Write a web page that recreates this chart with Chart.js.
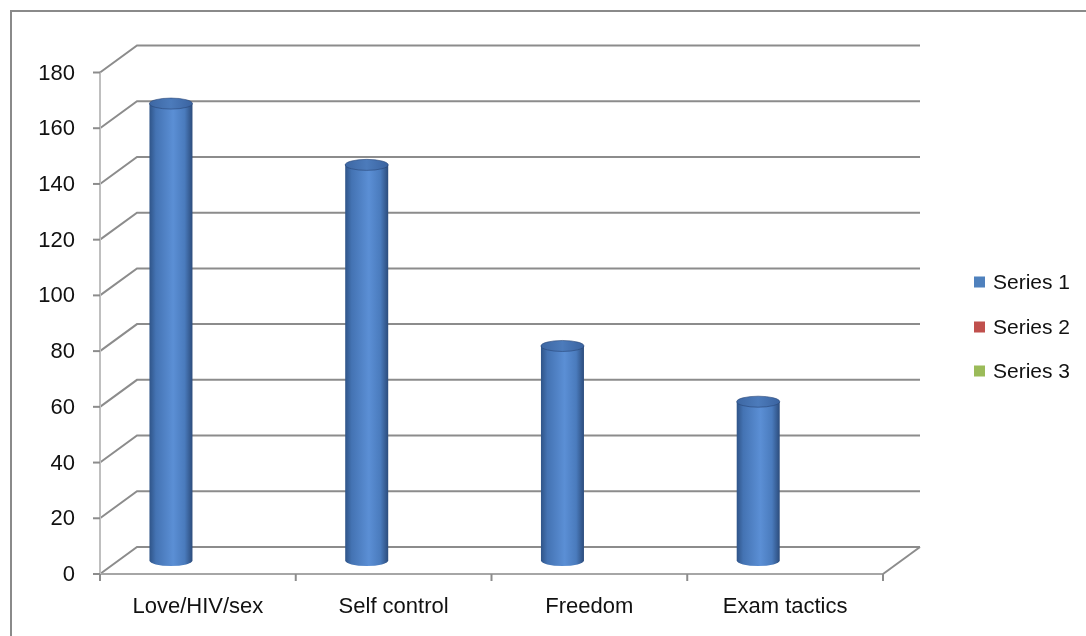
<!DOCTYPE html>
<html>
<head>
<meta charset="utf-8">
<script src="https://cdn.jsdelivr.net/npm/chart.js@4/dist/chart.umd.min.js"></script>
<style>
  html, body { margin: 0; padding: 0; background: #ffffff; }
  #wrap { width: 1086px; height: 636px; position: relative; }
</style>
</head>
<body>
<div id="wrap"><canvas id="c" width="1086" height="636"></canvas></div>
<script>
// Chart data
const categories = ['Love/HIV/sex', 'Self control', 'Freedom', 'Exam tactics'];
const series1 = [164, 142, 77, 57];
const series2 = [null, null, null, null];
const series3 = [null, null, null, null];
const seriesNames = ['Series 1', 'Series 2', 'Series 3'];
const seriesColors = ['#4f81bd', '#c0504d', '#9bbb59'];
const yTicks = [0, 20, 40, 60, 80, 100, 120, 140, 160, 180];

// 3D depth of the plot box (back wall offset from the front plane)
const DEPTH_X = 37;
const DEPTH_Y = 27;
const FONT = '"Liberation Sans", Arial, sans-serif';
const GRID = '#8c8c8c';

function line(ctx, pts, color, width) {
  ctx.beginPath();
  ctx.moveTo(pts[0][0], pts[0][1]);
  for (let i = 1; i < pts.length; i++) ctx.lineTo(pts[i][0], pts[i][1]);
  ctx.strokeStyle = color;
  ctx.lineWidth = width;
  ctx.stroke();
}

const box3d = {
  id: 'box3d',
  beforeDatasetsDraw(chart) {
    const ctx = chart.ctx;
    const y = chart.scales.y;
    const a = chart.chartArea;
    ctx.save();
    ctx.lineCap = 'butt';
    // back wall gridlines with the side-wall diagonals
    yTicks.forEach(v => {
      const py = y.getPixelForValue(v);
      line(ctx, [[a.left, py], [a.left + DEPTH_X, py - DEPTH_Y], [a.right + DEPTH_X, py - DEPTH_Y]], GRID, 2);
    });
    // floor: front edge and right diagonal
    const base = y.getPixelForValue(0);
    line(ctx, [[a.left, base], [a.right, base]], '#a6a6a6', 2);
    line(ctx, [[a.right, base], [a.right + DEPTH_X, base - DEPTH_Y]], GRID, 2);
    // front value axis
    line(ctx, [[a.left, y.getPixelForValue(180)], [a.left, base]], '#bfbfbf', 2);
    // value axis tick marks
    yTicks.forEach(v => {
      const py = y.getPixelForValue(v);
      line(ctx, [[a.left - 7, py], [a.left, py]], GRID, 2);
    });
    // category tick marks
    const n = categories.length;
    for (let i = 0; i <= n; i++) {
      const px = a.left + (a.right - a.left) * i / n;
      line(ctx, [[px, base], [px, base + 7]], GRID, 2);
    }
    ctx.restore();
  },
  afterDatasetsDraw(chart) {
    const ctx = chart.ctx;
    const meta = chart.getDatasetMeta(0);
    ctx.save();
    meta.data.forEach(el => {
      const p = el.getProps(['x', 'y', 'base', 'width'], true);
      const cx = p.x + DEPTH_X / 2;
      const rx = p.width / 2;
      const ry = 5.5;
      const top = p.y - DEPTH_Y / 2;
      const bot = p.base - DEPTH_Y / 2;
      // body
      const g = ctx.createLinearGradient(cx - rx, 0, cx + rx, 0);
      g.addColorStop(0, '#2f5488');
      g.addColorStop(0.15, '#4473b3');
      g.addColorStop(0.55, '#5b8fd5');
      g.addColorStop(0.82, '#4a7bbd');
      g.addColorStop(1, '#2c4c7c');
      ctx.beginPath();
      ctx.moveTo(cx - rx, top);
      ctx.lineTo(cx - rx, bot);
      ctx.ellipse(cx, bot, rx, ry, 0, Math.PI, 0, true);
      ctx.lineTo(cx + rx, top);
      ctx.closePath();
      ctx.fillStyle = g;
      ctx.fill();
      // top cap
      const gt = ctx.createLinearGradient(cx - rx, 0, cx + rx, 0);
      gt.addColorStop(0, '#3d67a3');
      gt.addColorStop(0.5, '#4c7bbb');
      gt.addColorStop(1, '#3a63a0');
      ctx.beginPath();
      ctx.ellipse(cx, top, rx, ry, 0, 0, Math.PI * 2);
      ctx.fillStyle = gt;
      ctx.fill();
      ctx.strokeStyle = 'rgba(40,70,120,0.6)';
      ctx.lineWidth = 1;
      ctx.stroke();
    });
    ctx.restore();
  },
  afterDraw(chart) {
    const ctx = chart.ctx;
    const y = chart.scales.y;
    const x = chart.scales.x;
    const a = chart.chartArea;
    ctx.save();
    ctx.fillStyle = '#111';
    ctx.font = '22px ' + FONT;
    // value labels
    ctx.textAlign = 'right';
    ctx.textBaseline = 'middle';
    yTicks.forEach(v => ctx.fillText(String(v), a.left - 25, y.getPixelForValue(v) + 1));
    // category labels
    ctx.textAlign = 'center';
    categories.forEach((c, i) => ctx.fillText(c, x.getPixelForValue(i), 607));
    // legend
    ctx.font = '21px ' + FONT;
    ctx.textAlign = 'left';
    const ly = [282, 327, 371];
    seriesNames.forEach((s, i) => {
      ctx.fillStyle = seriesColors[i];
      ctx.fillRect(974, ly[i] - 5.5, 11, 11);
      ctx.fillStyle = '#111';
      ctx.fillText(s, 993, ly[i] + 1);
    });
    // outer frame
    line(ctx, [[11, 636], [11, 11], [1086, 11]], '#8a8a8a', 2);
    ctx.restore();
  }
};

new Chart(document.getElementById('c'), {
  type: 'bar',
  data: {
    labels: categories,
    datasets: [series1, series2, series3].map((d, i) => ({
      label: seriesNames[i],
      data: d,
      backgroundColor: 'rgba(0,0,0,0)',
      borderWidth: 0,
      categoryPercentage: 0.696,
      barPercentage: 0.947
    }))
  },
  options: {
    responsive: false,
    animation: false,
    events: [],
    layout: { padding: { left: 100, right: 203, top: 72.5, bottom: 62 } },
    plugins: { legend: { display: false }, tooltip: { enabled: false } },
    scales: {
      x: { display: false },
      y: { display: false, min: 0, max: 180 }
    }
  },
  plugins: [box3d]
});
</script>
</body>
</html>
